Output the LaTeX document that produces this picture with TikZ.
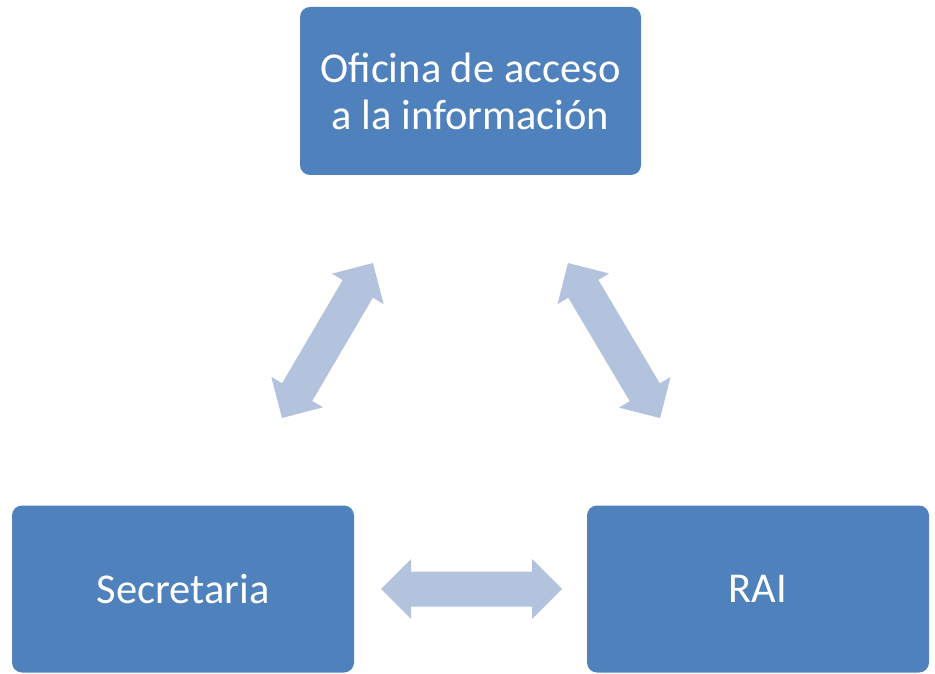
\documentclass[tikz,border=0pt]{standalone}
\usepackage{fontspec}
\setmainfont{Carlito}
\definecolor{boxblue}{HTML}{4F81BD}
\definecolor{arrowblue}{HTML}{B3C3DD}
\newcommand\dblarr[3]{%
  \fill[arrowblue, shift={#1}, rotate=#2]
    (0,0) -- (30,30) -- (30,17.5) -- (#3-30,17.5) -- (#3-30,30) -- (#3,0)
    -- (#3-30,-30) -- (#3-30,-17.5) -- (30,-17.5) -- (30,-30) -- cycle;}
\begin{document}
\begin{tikzpicture}[x=1pt,y=1pt,
  box/.style={fill=boxblue, rounded corners=10pt, text=white, align=center,
    font=\fontsize{42.5}{47}\selectfont, inner sep=0pt}]
\useasboundingbox (0,0) rectangle (935,673);
\node[box, minimum width=341pt, minimum height=168pt] (ofi) at (470.5,582) {Oficina de acceso\\a la información};
\node[box, minimum width=342pt, minimum height=167pt] (sec) at (183,84) {Secretaria};
\node[box, minimum width=342pt, minimum height=167pt] (rai) at (758,84) {RAI};
\coordinate (a1) at (282,255);
\coordinate (a2) at (568,410);
\coordinate (a3) at (381,84);
\dblarr{(a1)}{59.6}{179.7}
\dblarr{(a2)}{-59.3}{180.4}
\dblarr{(a3)}{0}{181}
\end{tikzpicture}
\end{document}
